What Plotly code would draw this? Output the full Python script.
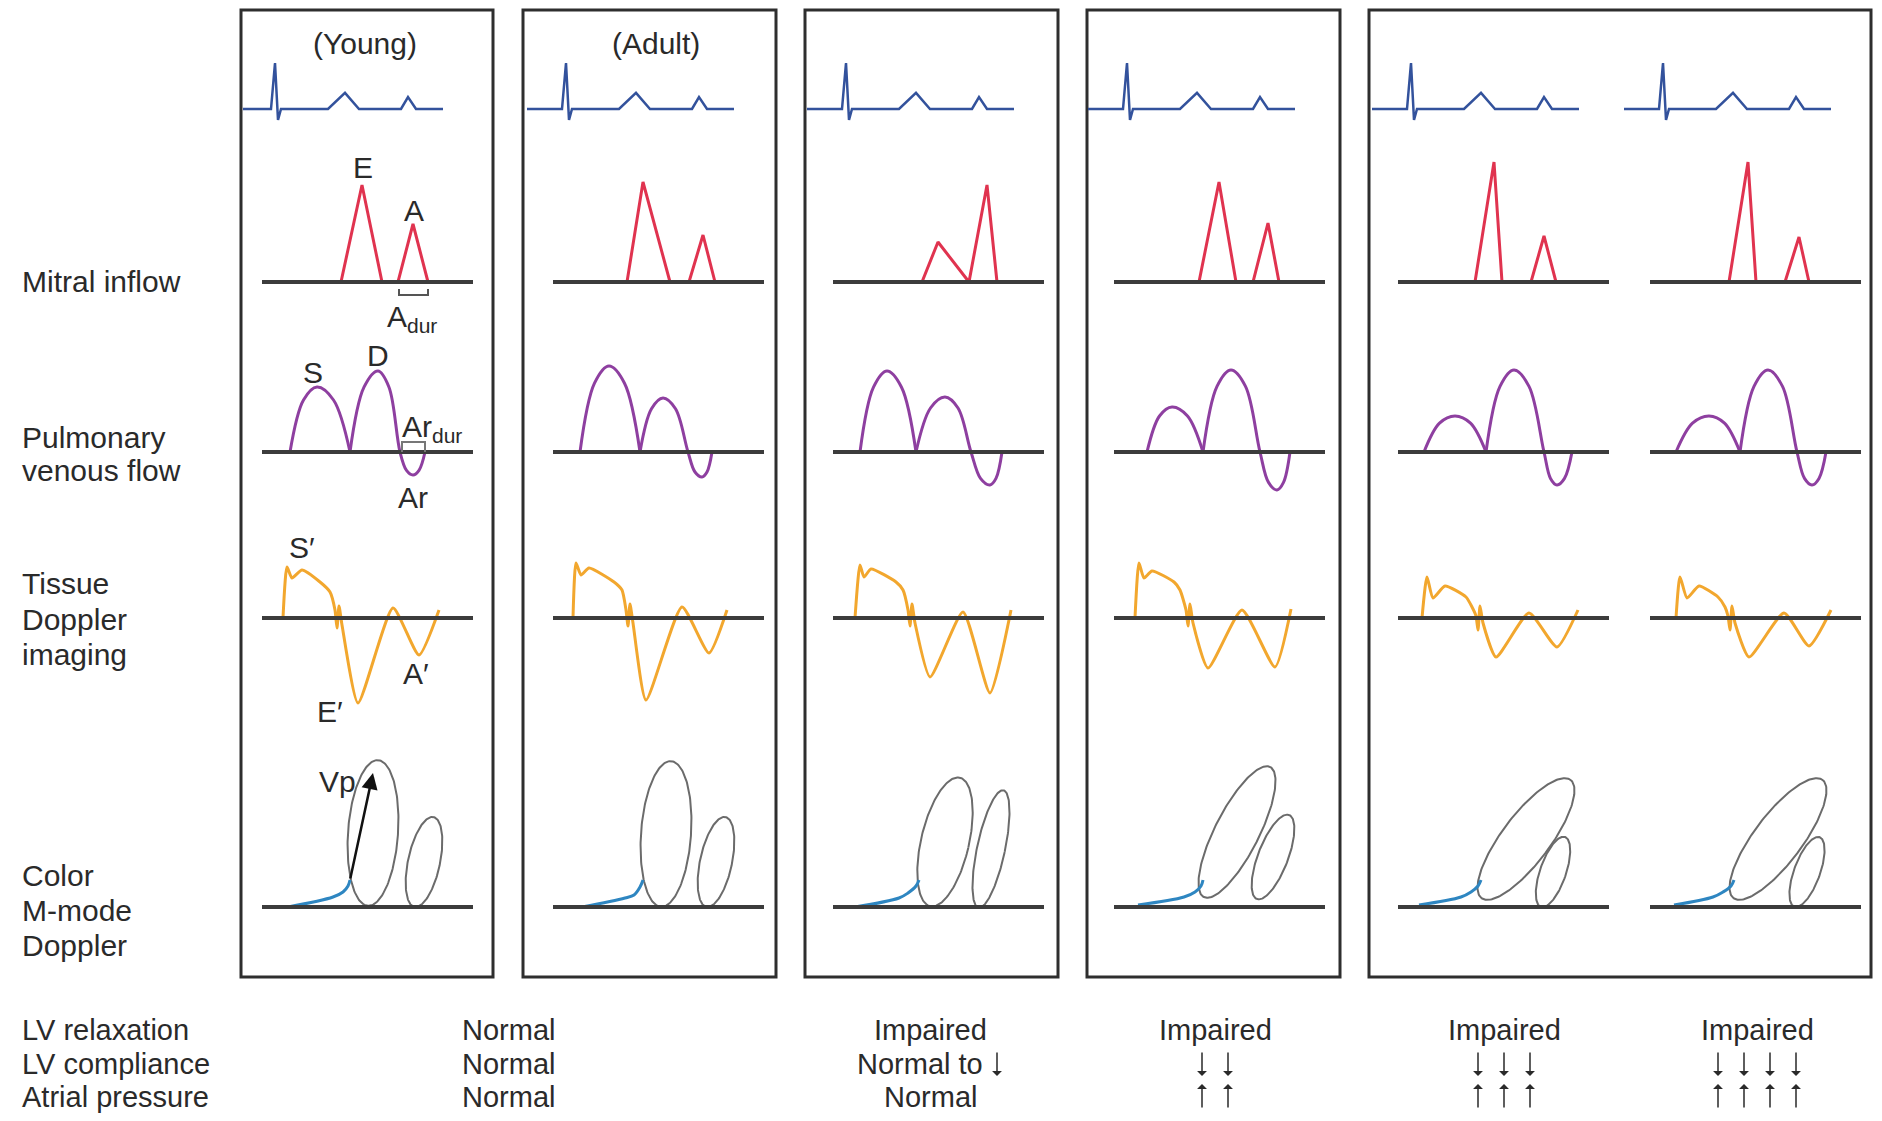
import numpy as np
import plotly.graph_objects as go

W, H = 1882, 1121
PAGE_MARGIN = 8  # default body margin of the html page

# ------------------------------------------------------------------ data
COLUMN_TITLES = ["(Young)", "(Adult)", "", "", "", ""]
ROW_LABELS = [["Mitral inflow"], ["Pulmonary", "venous flow"],
              ["Tissue", "Doppler", "imaging"], ["Color", "M-mode", "Doppler"]]
PARAM_LABELS = ["LV relaxation", "LV compliance", "Atrial pressure"]
# one entry per label group (Young+Adult share one)
PARAM_VALUES = [
    ["Normal", "Normal", "Normal"],
    ["Impaired", "Normal to ↓", "Normal"],
    ["Impaired", "↓↓", "↑↑"],
    ["Impaired", "↓↓↓", "↑↑↑"],
    ["Impaired", "↓↓↓↓", "↑↑↑↑"],
]

# ECG template (time units, amplitude units)
ECG_T = [0, 35, 39, 42, 45, 92, 109, 123, 165, 172, 180, 207]
ECG_V = [0, 0, 1.0, -0.24, 0, 0, 0.35, 0, 0, 0.26, 0, 0]

# Mitral inflow: E onset, E peak, E end, A onset, A peak, A end
MITRAL_T = [
    [79, 100, 120, 136, 151, 166],
    [74, 90, 117, 136, 150, 162],
    [89, 105, 136, 136, 154, 164],
    [85, 105, 122, 139, 154, 165],
    [77, 96, 104, 133, 146, 158],
    [79, 98, 106, 135, 149, 159],
]
MITRAL_E = [97, 100, 40, 100, 120, 120]
MITRAL_A = [58, 47, 97, 59, 46, 45]

# Pulmonary venous flow: S on, S pk, S end/D on, D pk, D end, Ar pk, Ar end
PV_T = [
    [28, 55, 88, 116, 138, 151, 163],
    [27, 56, 87, 110, 135, 149, 159],
    [27, 54, 83, 112, 138, 157, 169],
    [33, 58, 89, 117, 146, 163, 176],
    [26, 57, 88, 116, 146, 159, 174],
    [26, 59, 90, 118, 147, 162, 176],
]
PV_S = [65, 86, 81, 45, 36, 36]
PV_D = [81, 54, 55, 82, 82, 82]
PV_AR = [23, 25, 33, 38, 33, 33]

# Tissue Doppler velocity traces
TDI_T = [
    [21, 25, 30, 40, 58, 68, 73, 75, 77, 80, 96, 131, 157, 177],
    [20, 23, 28, 36, 61, 69, 73, 75, 77, 80, 93, 129, 156, 174],
    [22, 27, 31, 38, 63, 70, 75, 77, 79, 82, 97, 130, 157, 178],
    [21, 25, 30, 38, 60, 66, 72, 74, 76, 79, 94, 128, 161, 177],
    [24, 29, 35, 47, 68, 74, 78, 80, 82, 85, 98, 131, 159, 180],
    [26, 30, 37, 49, 68, 75, 78, 80, 82, 85, 99, 134, 159, 181],
]
TDI_V = [
    [0, 51, 40, 48, 36, 26, 8, -10, 12, -7, -85, 10, -37, 8],
    [0, 55, 43, 50, 36, 28, 8, -8, 14, -5, -82, 11, -35, 8],
    [0, 53, 41, 49, 36, 28, 8, -8, 14, -5, -59, 6, -75, 8],
    [0, 55, 40, 47, 36, 28, 8, -8, 14, -5, -50, 8, -49, 9],
    [0, 41, 20, 32, 21, 11, 2, -12, 12, -5, -39, 5, -29, 8],
    [0, 41, 20, 32, 21, 11, 2, -12, 12, -5, -39, 5, -28, 8],
]

# Color M-mode: early propagation curve
MM_T = [
    [26, 71, 81, 86, 88],
    [29, 72, 81, 87, 90],
    [22, 66, 75, 83, 86],
    [24, 70, 81, 87, 89],
    [21, 63, 73, 80, 83],
    [24, 63, 73, 81, 84],
]
MM_V = [
    [0, 10, 15, 21, 27],
    [0, 9, 12, 20, 27],
    [0, 9, 14, 21, 27],
    [2, 10, 15, 21, 27],
    [2, 10, 15, 21, 27],
    [2, 10, 15, 21, 27],
]
# flow ellipses: centre t, centre height, semi-major, semi-minor, tilt (deg)
MM_E_WAVE = [
    [111, 74, 73, 25, 4],
    [113, 73, 73, 25, 4],
    [112, 65, 66, 24, 13],
    [123, 75, 73, 22, 27],
    [128, 68, 74, 24, 37],
    [128, 68, 74, 24, 37],
]
MM_A_WAVE = [
    [162, 45, 46, 16, 12],
    [163, 45, 46, 16, 12],
    [158, 58, 60, 14, 12],
    [159, 50, 45, 15, 21],
    [155, 35, 37, 13, 19],
    [157, 35, 37, 13, 20],
]
VP_ARROW = [[88, 27], [111, 134]]

# ------------------------------------------------------------------ layout constants
BOXES = [(241, 493), (523, 776), (805, 1058), (1087, 1340), (1369, 1871)]
BOX_Y = (10, 977)
X0 = [262, 553, 833, 1114, 1398, 1650]
BASE_LEN = 211
ECG_Y, MI_Y, PV_Y, TDI_Y, MM_Y = 109, 282, 452, 618, 907
ECG_SCALE = 46
PARAM_X = [508, 930, 1215, 1504, 1757]
PARAM_Y = [1030, 1064, 1097]

C_ECG = "#33529c"
C_MI = "#e0334f"
C_PV = "#8e3fa0"
C_TDI = "#f2a72e"
C_MM = "#2e86c1"
C_ELL = "#6b6b6b"
C_BASE = "#3c3c3c"
C_TXT = "#2a2a2a"
FONT = "Liberation Sans, Arial, Helvetica, sans-serif"
FS = 30
FS_TABLE = 29

fig = go.Figure()


def line(x, y, color, width=3, shape="linear", smoothing=1.0):
    fig.add_trace(go.Scatter(
        x=list(x), y=list(y), mode="lines",
        line=dict(color=color, width=width, shape=shape, smoothing=smoothing),
        hoverinfo="skip", showlegend=False))


def text(x, y, s, size=FS, xanchor="center", yanchor="middle"):
    fig.add_annotation(x=x, y=y, text=s, showarrow=False, xanchor=xanchor,
                       yanchor=yanchor, font=dict(family=FONT, size=size, color=C_TXT))


def vert_arrow(x, y, down):
    tip, tail = (y + 12, y - 13) if down else (y - 13, y + 12)
    fig.add_annotation(x=x, y=tip, ax=x, ay=tail, xref="x", yref="y",
                       axref="x", ayref="y", text="", showarrow=True,
                       arrowhead=1, arrowsize=1.1, arrowwidth=1.5,
                       arrowcolor=C_TXT)


shapes = []
# boxes
for (l, r) in BOXES:
    shapes.append(dict(type="rect", x0=l, x1=r, y0=BOX_Y[0], y1=BOX_Y[1],
                       line=dict(color="#2e2e2e", width=3), layer="below"))
# baselines
for c in range(6):
    for yb in (MI_Y, PV_Y, TDI_Y, MM_Y):
        shapes.append(dict(type="line", x0=X0[c], x1=X0[c] + BASE_LEN, y0=yb, y1=yb,
                           line=dict(color=C_BASE, width=4), layer="above"))


def arc_points(t0, tp, t1, amp):
    # key points of a rounded lobe (start, shoulders, peak, end)
    return ([t0, t0 + 0.5 * (tp - t0), tp, tp + 0.5 * (t1 - tp), t1],
            [0, 0.8 * amp, amp, 0.8 * amp, 0])


for c in range(6):
    ox = X0[c]
    # ECG
    ex = [ox - 26 + t for t in ECG_T]
    if c == 0:
        ex[0] = BOXES[0][0] + 2
    line(ex, [ECG_Y - v * ECG_SCALE for v in ECG_V], C_ECG, 2.5)

    # mitral inflow
    mt = MITRAL_T[c]
    mv = [0, MITRAL_E[c], 0, 0, MITRAL_A[c], 0]
    line([ox + t for t in mt], [MI_Y - v for v in mv], C_MI, 3)

    # pulmonary venous
    pt = PV_T[c]
    st, sv = arc_points(pt[0], pt[1], pt[2], PV_S[c])
    line([ox + t for t in st], [PV_Y - v for v in sv], C_PV, 3, "spline", 1.0)
    dt, dv = arc_points(pt[2], pt[3], pt[4], PV_D[c])
    at, av = arc_points(pt[4], pt[5], pt[6], -PV_AR[c])
    line([ox + t for t in dt + at[1:]], [PV_Y - v for v in dv + av[1:]], C_PV, 3, "spline", 1.0)

    # tissue doppler
    line([ox + t for t in TDI_T[c]], [TDI_Y - v for v in TDI_V[c]], C_TDI, 3, "spline", 0.55)

    # color M-mode
    for (cx, cy, a, b, tilt) in (MM_E_WAVE[c], MM_A_WAVE[c]):
        th = np.linspace(0, 2 * np.pi, 181)
        u, v = b * np.cos(th), a * np.sin(th)
        tr = np.radians(tilt)
        xx = u * np.cos(tr) + v * np.sin(tr)
        yy = -u * np.sin(tr) + v * np.cos(tr)
        line(ox + cx + xx, MM_Y - (cy + yy), C_ELL, 2)
    line([ox + t for t in MM_T[c]], [MM_Y - v for v in MM_V[c]], C_MM, 3, "spline", 1.0)

# Vp arrow (column 1)
fig.add_annotation(x=X0[0] + VP_ARROW[1][0], y=MM_Y - VP_ARROW[1][1],
                   ax=X0[0] + VP_ARROW[0][0], ay=MM_Y - VP_ARROW[0][1],
                   xref="x", yref="y", axref="x", ayref="y", text="",
                   showarrow=True, arrowhead=2, arrowsize=1.3, arrowwidth=2.5,
                   arrowcolor="#111111")

# brackets (duration markers)
shapes.append(dict(type="path", path="M 399 289 L 399 295 L 428 295 L 428 289",
                   line=dict(color="#555555", width=2)))
shapes.append(dict(type="path", path="M 402 452 L 402 442 L 425 442 L 425 452",
                   line=dict(color="#777777", width=2)))

# wave labels (column 1)
text(363, 167, "E")
text(414, 210, "A")
text(385, 318, "A<sub>dur</sub>", xanchor="left")
text(313, 372, "S")
text(378, 355, "D")
text(400, 428, "Ar<sub>dur</sub>", xanchor="left")
text(413, 497, "Ar")
text(302, 547, "S′")
text(330, 711, "E′")
text(416, 673, "A′")
text(337, 781, "Vp")

# column titles
for c, t in enumerate(COLUMN_TITLES):
    if t:
        text((X0[c] + X0[c] + BASE_LEN) / 2 - 3, 43, t)

# row labels
ROW_LINE_Y = [[281], [437, 470], [583, 619, 654], [875, 910, 945]]
for labs, ys in zip(ROW_LABELS, ROW_LINE_Y):
    for s, yy in zip(labs, ys):
        text(20, yy, s, xanchor="left")

# parameter table
for s, yy in zip(PARAM_LABELS, PARAM_Y):
    text(20, yy, s, size=FS_TABLE, xanchor="left")
for gx, vals in zip(PARAM_X, PARAM_VALUES):
    for s, yy in zip(vals, PARAM_Y):
        if set(s) <= {"↓", "↑"}:
            n = len(s)
            for k, ch in enumerate(s):
                vert_arrow(gx + (k - (n - 1) / 2) * 26, yy, ch == "↓")
        elif s.endswith("↓"):
            base = s[:-1].rstrip()
            text(gx + 55, yy, base, size=FS_TABLE, xanchor="right")
            vert_arrow(gx + 67, yy, True)
        else:
            text(gx, yy, s, size=FS_TABLE)

fig.update_layout(
    width=W - 2 * PAGE_MARGIN, height=H - 2 * PAGE_MARGIN,
    margin=dict(l=0, r=0, t=0, b=0),
    paper_bgcolor="white", plot_bgcolor="white", shapes=shapes,
    xaxis=dict(range=[PAGE_MARGIN, W - PAGE_MARGIN], visible=False, fixedrange=True),
    yaxis=dict(range=[H - PAGE_MARGIN, PAGE_MARGIN], visible=False, fixedrange=True),
)
fig.write_html("out.html")
